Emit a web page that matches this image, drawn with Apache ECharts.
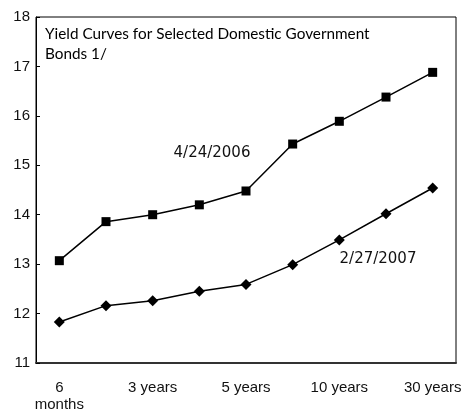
<!DOCTYPE html>
<html>
<head>
<meta charset="utf-8">
<script src="https://cdn.jsdelivr.net/npm/echarts@6/dist/echarts.min.js"></script>
<style>
  html, body { margin: 0; padding: 0; background: #fff; }
  #chart { width: 470px; height: 413px; }
</style>
</head>
<body>
<div id="chart"></div>
<script>
// maturities (only every other one is labelled on the axis)
const maturities = ["6\nmonths", "1 year", "3 years", "4 years", "5 years", "7 years", "10 years", "20 years", "30 years"];
const curve2006 = [13.07, 13.86, 14.00, 14.20, 14.48, 15.43, 15.89, 16.38, 16.88];
const curve2007 = [11.83, 12.16, 12.26, 12.45, 12.59, 12.99, 13.49, 14.02, 14.54];
const yTicks = { min: 11, max: 18, step: 1 };
const titleLines = ["Yield Curves for Selected Domestic Government", "Bonds 1/"];

const chart = echarts.init(document.getElementById("chart"));

const option = {
    animation: false,
    backgroundColor: "#fff",
    grid: {
        left: 36,
        top: 17,
        right: 14,
        bottom: 48,
        show: true,
        borderColor: "#000",
        borderWidth: 1,
    },
    xAxis: {
        type: "category",
        data: maturities,
        boundaryGap: true,
        axisLine: { lineStyle: { color: "#333", width: 2 } },
        axisTick: { inside: true, length: 4, lineStyle: { color: "#333" } },
        axisLabel: {
            interval: 1,
            margin: 16,
            color: "#111",
            fontFamily: "Liberation Sans",
            fontSize: 15,
            lineHeight: 17,
        },
    },
    yAxis: {
        type: "value",
        min: yTicks.min,
        max: yTicks.max,
        interval: yTicks.step,
        splitLine: { show: false },
        axisLine: { show: true, lineStyle: { color: "#000", width: 1 } },
        axisTick: { show: true, inside: true, length: 4, lineStyle: { color: "#000" } },
        axisLabel: {
            margin: 6,
            color: "#111",
            fontFamily: "Liberation Sans",
            fontSize: 15,
        },
    },
    series: [
        {
            name: "4/24/2006",
            type: "line",
            data: curve2006,
            symbol: "rect",
            symbolSize: 9,
            itemStyle: { color: "#000" },
            lineStyle: { color: "#000", width: 1.5 },
        },
        {
            name: "2/27/2007",
            type: "line",
            data: curve2007,
            symbol: "diamond",
            symbolSize: 11,
            itemStyle: { color: "#000" },
            lineStyle: { color: "#000", width: 1.5 },
        },
    ],
    graphic: [
        {
            type: "text",
            left: 45,
            top: 24,
            style: {
                text: titleLines.join("\n"),
                fill: "#000",
                font: "15.3px Lato",
                lineHeight: 20,
            },
        },
        {
            type: "text",
            x: 212,
            y: 153,
            style: {
                text: "4/24/2006",
                fill: "#111",
                font: "15px 'DejaVu Sans'",
                align: "center",
                verticalAlign: "middle",
            },
        },
        {
            type: "text",
            x: 378,
            y: 259,
            style: {
                text: "2/27/2007",
                fill: "#111",
                font: "15px 'DejaVu Sans'",
                align: "center",
                verticalAlign: "middle",
            },
        },
    ],
};

chart.setOption(option);
</script>
</body>
</html>
